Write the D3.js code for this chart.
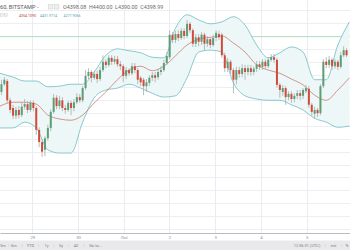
<!DOCTYPE html>
<html><head><meta charset="utf-8">
<script src="https://cdn.jsdelivr.net/npm/d3@7/dist/d3.min.js"></script>
<style>html,body{margin:0;padding:0;background:#fff;overflow:hidden}svg{display:block;font-family:"Open Sans",Roboto,sans-serif}</style>
</head><body><svg id="c" width="350" height="250"></svg>
<script>
// ---- data (BTCUSD 60 min, Bitstamp) ----
const opens=[4313,4325,4330,4300,4288,4276,4285,4277,4290,4294,
4285,4296,4288,4254,4235,4223,4241,4257,4282,4304,
4291,4300,4288,4285,4296,4288,4297,4305,4300,4319,
4338,4344,4335,4341,4333,4347,4360,4355,4366,4360,
4364,4356,4353,4338,4347,4342,4353,4347,4335,4332,
4322,4327,4335,4339,4336,4344,4347,4358,4367,4402,
4394,4403,4397,4408,4400,4419,4409,4388,4398,4391,
4402,4388,4395,4386,4397,4403,4402,4370,4350,4360,
4347,4332,4347,4341,4350,4344,4350,4344,4349,4356,
4352,4360,4353,4363,4367,4363,4324,4313,4319,4305,
4310,4302,4307,4311,4307,4314,4318,4293,4279,4285,
4280,4322,4360,4355,4363,4353,4360,4352,4370,4378];
const highs=[4332,4336,4333,4304,4293,4290,4291,4296,4302,4299,
4300,4300,4291,4258,4240,4244,4262,4286,4310,4308,
4307,4305,4293,4300,4300,4302,4311,4310,4322,4347,
4350,4347,4346,4346,4352,4370,4364,4370,4370,4369,
4369,4361,4356,4352,4350,4358,4358,4350,4338,4335,
4333,4339,4344,4344,4349,4353,4363,4375,4409,4406,
4408,4409,4412,4412,4425,4422,4412,4403,4403,4406,
4405,4400,4398,4402,4409,4408,4405,4374,4366,4363,
4350,4352,4352,4356,4355,4355,4355,4353,4361,4361,
4364,4364,4367,4372,4372,4366,4327,4324,4322,4314,
4314,4311,4316,4316,4319,4324,4322,4296,4290,4288,
4325,4364,4367,4369,4366,4364,4363,4375,4384,4381];
const lows=[4308,4322,4296,4280,4271,4271,4272,4274,4286,4280,
4282,4283,4246,4227,4212,4213,4237,4252,4279,4286,
4286,4283,4279,4282,4277,4283,4294,4296,4297,4316,
4333,4328,4332,4327,4330,4344,4350,4352,4355,4356,
4352,4347,4328,4333,4338,4339,4342,4325,4322,4308,
4313,4322,4330,4328,4332,4339,4344,4355,4364,4389,
4389,4392,4394,4395,4397,4405,4383,4383,4384,4386,
4378,4383,4381,4383,4392,4394,4366,4344,4344,4341,
4311,4325,4335,4336,4332,4339,4338,4339,4344,4347,
4347,4349,4350,4360,4358,4319,4304,4307,4293,4300,
4296,4297,4302,4300,4302,4311,4288,4276,4272,4274,
4277,4319,4350,4350,4347,4349,4347,4349,4367,4367];
const closes=[4325,4332,4300,4285,4276,4285,4277,4290,4294,4285,
4296,4288,4254,4235,4220,4241,4257,4282,4304,4291,
4300,4288,4285,4296,4288,4297,4305,4300,4319,4338,
4344,4335,4341,4333,4347,4360,4355,4366,4360,4364,
4356,4353,4338,4347,4342,4353,4347,4332,4328,4322,
4328,4335,4339,4335,4344,4347,4358,4369,4402,4394,
4403,4397,4408,4400,4419,4409,4388,4398,4391,4402,
4388,4395,4386,4397,4405,4398,4370,4350,4360,4347,
4332,4347,4341,4350,4344,4350,4344,4349,4356,4352,
4360,4353,4363,4367,4363,4324,4316,4319,4305,4310,
4302,4307,4311,4307,4316,4319,4293,4282,4285,4280,
4322,4360,4355,4363,4353,4360,4352,4370,4378,4370];
// Bollinger Bands (20, 2) read at every 4th bar
const bandIdx=[-0.5,4,8,12,16,20,24,28,32,36,40,44,48,52,56,60,64,68,72,76,80,84,88,92,96,100,104,108,112,116,120];
const bbUpper=[4342,4336,4330,4330,4321,4322,4325,4325,4344,4370,4380,4377,4374,4367,4366,4412,4433,4425,4419,4422,4430,4417,4386,4366,4374,4383,4375,4332,4332,4386,4422];
const bbBasis=[4291,4297,4297,4294,4277,4271,4269,4277,4296,4313,4332,4347,4353,4346,4353,4369,4386,4395,4398,4400,4389,4375,4355,4347,4342,4333,4324,4308,4300,4316,4335];
const bbLower=[4257,4257,4266,4257,4223,4218,4218,4266,4304,4316,4319,4325,4319,4311,4305,4307,4335,4375,4378,4375,4327,4307,4302,4300,4300,4293,4285,4272,4266,4258,4260];
const dayHours=[0,24,48,72,96,120,144];
const dayLabels=["29","30","Oct","2","3","4","5"];
const priceLevels=d3.range(4100,4461,20);
const lastPrice=4398.99;
const titleText="60, BITSTAMP -";
const ohlcText="O4398.08  H4400.00  L4390.00  C4398.99";
const bbLegend=["4354.1090","4431.9714","4277.9066"];
const rangeButtons=["3m","6m","YTD","1y","5y","All","Go to..."];
const rightButtons=["12:36:31 (UTC)","ext","%"];

// ---- drawing ----
const W=350,H=250,plotH=233;
const svg=d3.select("#c");
const xi=d3.scaleLinear().domain([-0.5,119.5]).range([0,348]);
const xt=d3.scaleLinear().domain([-17,166.8]).range([0,350]);
const y=d3.scaleLinear().domain([4100,4400]).range([228.9,36]);

svg.append("defs").append("clipPath").attr("id","clip").append("rect").attr("x",0).attr("y",0).attr("width",W).attr("height",plotH);
const g=svg.append("g").attr("clip-path","url(#clip)");

// grid
g.append("g").selectAll("line").data(priceLevels).join("line")
 .attr("x1",0).attr("x2",W).attr("y1",d=>Math.round(y(d))+0.5).attr("y2",d=>Math.round(y(d))+0.5)
 .attr("stroke","#eceef2").attr("stroke-width",1);
g.append("g").selectAll("line").data(dayHours).join("line")
 .attr("x1",d=>Math.round(xt(d))+0.5).attr("x2",d=>Math.round(xt(d))+0.5).attr("y1",0).attr("y2",plotH)
 .attr("stroke","#eaecf0").attr("stroke-width",1);

// last price line
g.append("line").attr("x1",0).attr("x2",W).attr("y1",y(lastPrice)).attr("y2",y(lastPrice))
 .attr("stroke","#b4dcc0").attr("stroke-width",1);

// bollinger bands
const band=bandIdx.map((b,i)=>({x:xi(b),u:bbUpper[i],m:bbBasis[i],l:bbLower[i]}));
const curve=d3.curveMonotoneX;
g.append("path").datum(band).attr("d",d3.area().x(d=>d.x).y0(d=>y(d.l)).y1(d=>y(d.u)).curve(curve))
 .attr("fill","#eef7f7");
g.append("path").datum(band).attr("d",d3.line().x(d=>d.x).y(d=>y(d.u)).curve(curve)).attr("fill","none").attr("stroke","#7cc3c8").attr("stroke-width",0.9);
g.append("path").datum(band).attr("d",d3.line().x(d=>d.x).y(d=>y(d.l)).curve(curve)).attr("fill","none").attr("stroke","#7cc3c8").attr("stroke-width",0.9);
g.append("path").datum(band).attr("d",d3.line().x(d=>d.x).y(d=>y(d.m)).curve(curve)).attr("fill","none").attr("stroke","#c46a60").attr("stroke-width",0.7);

// candles
const bars=closes.map((c,i)=>({i,o:opens[i],h:highs[i],l:lows[i],c}));
const cg=g.append("g");
cg.selectAll("line").data(bars).join("line")
 .attr("x1",d=>xi(d.i)).attr("x2",d=>xi(d.i)).attr("y1",d=>y(d.h)).attr("y2",d=>y(d.l))
 .attr("stroke","#a9a9ad").attr("stroke-width",0.8);
cg.selectAll("rect").data(bars).join("rect")
 .attr("x",d=>xi(d.i)-1).attr("width",2)
 .attr("y",d=>y(Math.max(d.o,d.c))).attr("height",d=>Math.max(1,Math.abs(y(d.o)-y(d.c))))
 .attr("fill",d=>d.c>=d.o?"#5c9e77":"#d24b3a");

// x axis
const ax=svg.append("g").attr("transform",`translate(0,${plotH})`)
 .call(d3.axisBottom(xt).tickValues(dayHours).tickFormat((d,i)=>dayLabels[i]).tickSize(0).tickPadding(3));
ax.select(".domain").attr("stroke","#b8bbc2").attr("stroke-width",1.2);
ax.selectAll("text").attr("fill","#8a8d94").attr("font-size",4.2).attr("font-family","Roboto,sans-serif");

// bottom toolbar
svg.append("rect").attr("x",0).attr("y",240.5).attr("width",W).attr("height",10).attr("fill","#e9e9ec");
const leftCenters=[3,14,30.5,46.5,61,76,95.5];
const tb=svg.append("g").attr("font-size",4).attr("fill","#7a7d85").attr("font-family","Roboto,sans-serif");
tb.selectAll("text.l").data(rangeButtons).join("text").attr("class","l")
 .attr("x",(d,i)=>leftCenters[i]).attr("y",246.8).attr("text-anchor","middle").text(d=>d);
tb.selectAll("text.s").data(rangeButtons.slice(1)).join("text").attr("class","s")
 .attr("x",(d,i)=>(leftCenters[i]+leftCenters[i+1])/2+ (i===5?-2:0)).attr("y",246.8).attr("text-anchor","middle").attr("fill","#b8bac0").text("|");
const rightCenters=[307,333.5,347];
tb.selectAll("text.r").data(rightButtons).join("text").attr("class","r")
 .attr("x",(d,i)=>rightCenters[i]).attr("y",246.8).attr("text-anchor","middle").text(d=>d);
tb.selectAll("text.rs").data([325,341.5]).join("text").attr("class","rs")
 .attr("x",d=>d).attr("y",246.8).attr("text-anchor","middle").attr("fill","#b8bac0").text("|");

// header legend
const hd=svg.append("g").attr("font-family","Roboto,sans-serif");
hd.append("text").attr("x",0).attr("y",9).attr("font-size",5.6).attr("fill","#555").text(titleText);
[48.5,54.5].forEach(x=>hd.append("rect").attr("x",x).attr("y",4.5).attr("width",4.5).attr("height",4.5).attr("fill","#eeeeee").attr("stroke","#cfcfcf").attr("stroke-width",0.5));
hd.append("text").attr("x",63).attr("y",9).attr("font-size",5.4).attr("fill","#6a6a6a").attr("xml:space","preserve").style("white-space","pre").text(ohlcText);
[0.2,4.2].forEach(x=>hd.append("rect").attr("x",x).attr("y",13.5).attr("width",3).attr("height",3).attr("fill","#eeeeee").attr("stroke","#cfcfcf").attr("stroke-width",0.4));
const bbX=[19,40,63.5];
const bbCol=["#b5473d","#4fa6ae","#4fa6ae"];
hd.selectAll("text.b").data(bbLegend).join("text").attr("class","b")
 .attr("x",(d,i)=>bbX[i]).attr("y",16.8).attr("font-size",3.6).attr("fill",(d,i)=>bbCol[i]).text(d=>d);
</script></body></html>
